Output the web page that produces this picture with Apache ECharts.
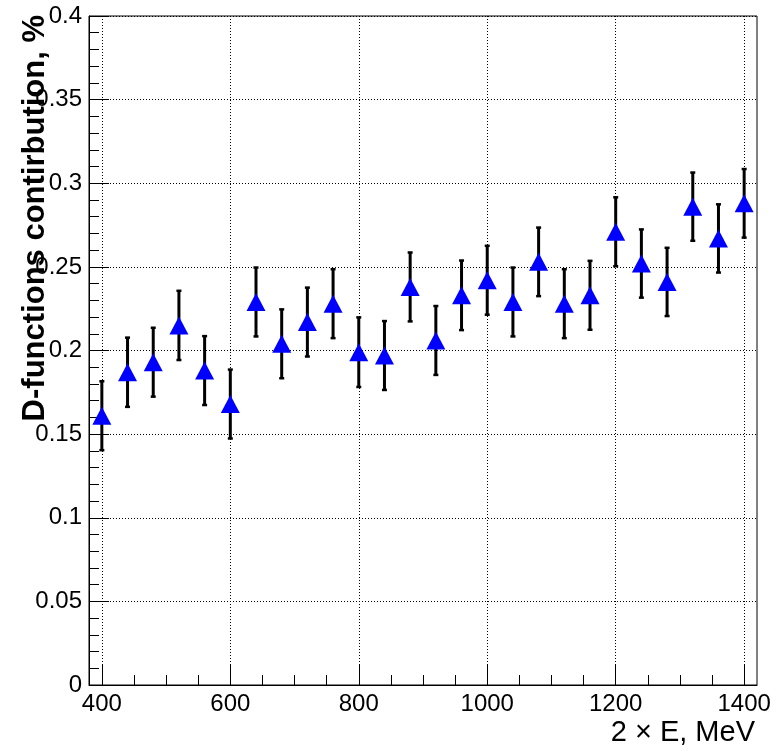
<!DOCTYPE html>
<html>
<head>
<meta charset="utf-8">
<script src="https://cdn.jsdelivr.net/npm/echarts@6/dist/echarts.min.js"></script>
<style>
html,body{margin:0;padding:0;background:#fff;}
#chart{width:779px;height:753px;}
</style>
</head>
<body>
<div id="chart"></div>
<script>
const energies = [400,440,480,520,560,600,640,680,720,760,800,840,880,920,960,1000,1040,1080,1120,1160,1200,1240,1280,1320,1360,1400];
const contribution = [0.161,0.187,0.193,0.215,0.188,0.168,0.229,0.204,0.217,0.228,0.199,0.197,0.238,0.206,0.233,0.242,0.229,0.253,0.228,0.233,0.271,0.252,0.241,0.286,0.267,0.288];
const errors = [0.0206,0.0207,0.0206,0.0207,0.0206,0.0206,0.0206,0.0206,0.0206,0.0206,0.0208,0.0206,0.0206,0.0206,0.0208,0.0206,0.0206,0.0205,0.0206,0.0206,0.0206,0.0204,0.0204,0.0204,0.0204,0.0205];
const xMajorTicks = [400,600,800,1000,1200,1400];
const xMinorTicks = [450,500,550,650,700,750,850,900,950,1050,1100,1150,1250,1300,1350];
const yTicks = [0,0.05,0.1,0.15,0.2,0.25,0.3,0.35,0.4];
const xTitle = '2 × E, MeV';
const yTitle = 'D-functions contirbution, %';

const FONT = '"Liberation Sans", Arial, Helvetica, sans-serif';
const chart = echarts.init(document.getElementById('chart'), null, {renderer:'canvas'});

const pointData = energies.map((x,i)=>[x, contribution[i]]);
const errData = energies.map((x,i)=>[x, contribution[i]-errors[i], contribution[i]+errors[i]]);
const dotted = {color:'#000', width:1, type:[1,2]};

chart.setOption({
  animation:false,
  backgroundColor:'#fff',
  textStyle:{fontFamily:FONT},
  grid:{left:89, right:22, top:16, bottom:68, show:true, borderColor:'#000', borderWidth:1, backgroundColor:'transparent'},
  xAxis:[{
    type:'value', min:380, max:1420, position:'bottom',
    axisLine:{show:true, lineStyle:{color:'#000', width:1}},
    axisTick:{show:true, inside:true, length:20, customValues:xMajorTicks, lineStyle:{color:'#000', width:1}},
    axisLabel:{show:true, customValues:xMajorTicks, color:'#000', fontSize:24, fontFamily:FONT, margin:7,
      formatter:function(v){return String(v);}},
    splitLine:{show:true, lineStyle:dotted}
  },{
    type:'value', min:380, max:1420, position:'bottom', gridIndex:0,
    axisLine:{show:false},
    axisTick:{show:true, inside:true, length:10, customValues:xMinorTicks, lineStyle:{color:'#000', width:1}},
    axisLabel:{show:false},
    splitLine:{show:false}
  }],
  yAxis:{
    type:'value', min:yTicks[0], max:yTicks[yTicks.length-1], interval:yTicks[1]-yTicks[0],
    axisLine:{show:true, lineStyle:{color:'#000', width:1}},
    axisTick:{show:true, inside:true, length:20, lineStyle:{color:'#000', width:1}},
    minorTick:{show:true, splitNumber:5, length:10, lineStyle:{color:'#000', width:1}},
    axisLabel:{show:true, color:'#000', fontSize:24, fontFamily:FONT, margin:7,
      formatter:function(v){return String(+v.toFixed(3));}},
    splitLine:{show:true, lineStyle:dotted}
  },
  series:[{
    type:'custom',
    xAxisIndex:0, yAxisIndex:0,
    data:errData,
    z:3,
    renderItem:function(params, api){
      const x = api.value(0);
      const lo = api.coord([x, api.value(1)]);
      const hi = api.coord([x, api.value(2)]);
      const cw = 2.5;
      const st = {stroke:'#000', lineWidth:3};
      const cs = {stroke:'#000', lineWidth:2.5};
      return {type:'group', children:[
        {type:'line', shape:{x1:lo[0], y1:lo[1], x2:hi[0], y2:hi[1]}, style:st},
        {type:'line', shape:{x1:lo[0]-cw, y1:lo[1], x2:lo[0]+cw, y2:lo[1]}, style:cs},
        {type:'line', shape:{x1:hi[0]-cw, y1:hi[1], x2:hi[0]+cw, y2:hi[1]}, style:cs}
      ]};
    }
  },{
    type:'scatter',
    xAxisIndex:0, yAxisIndex:0,
    data:pointData,
    symbol:'triangle',
    symbolSize:[19,18],
    itemStyle:{color:'#0000ff', opacity:1},
    z:4
  }],
  graphic:[{
    type:'text', x:35, y:15, rotation:Math.PI/2,
    style:{text:yTitle, font:'bold 31px '+FONT, fill:'#000', textAlign:'right', textVerticalAlign:'middle'}
  },{
    type:'text', x:755, y:747,
    style:{text:xTitle, font:'29px '+FONT, fill:'#000', textAlign:'right', textVerticalAlign:'bottom'}
  }]
});
</script>
</body>
</html>
